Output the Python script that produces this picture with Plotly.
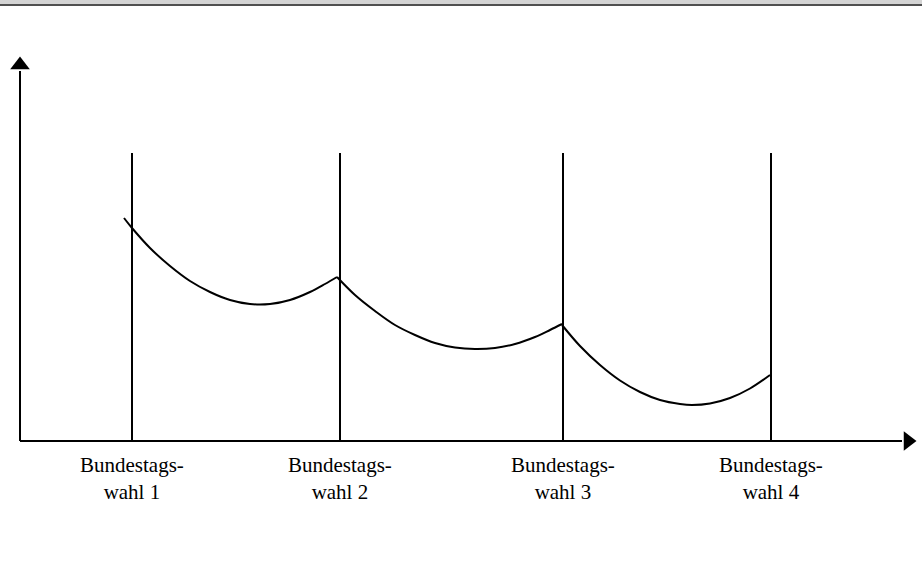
import plotly.graph_objects as go

# Categories (election dates) and their positions on the time axis
elections = ["Bundestagswahl 1", "Bundestagswahl 2", "Bundestagswahl 3", "Bundestagswahl 4"]
election_x = [112, 320, 543, 751]
election_line_top = 288

# Popularity curve, one segment between consecutive elections
seg1_x = [104, 112, 130, 150, 170, 190, 210, 230, 250, 270, 290, 305, 317]
seg1_y = [223, 213, 193, 175, 160, 149, 141, 137, 137, 141, 149, 157, 164]
seg2_x = [317, 335, 355, 375, 395, 415, 435, 455, 475, 495, 515, 530, 542]
seg2_y = [164, 146, 130, 116, 106, 98, 93.5, 92, 93, 97, 104, 111, 117]
seg3_x = [542, 560, 580, 600, 620, 640, 660, 672, 690, 710, 730, 750]
seg3_y = [116, 95, 76, 60.5, 49, 41, 37, 36, 37.5, 43, 52.5, 66]

# Axis extents
x_axis_end = 888
y_axis_end = 376

fig = go.Figure()

# axes lines
fig.add_trace(go.Scatter(x=[0, x_axis_end - 6], y=[0, 0], mode="lines",
                         line=dict(color="black", width=2), hoverinfo="skip"))
fig.add_trace(go.Scatter(x=[0, 0], y=[0, y_axis_end - 6], mode="lines",
                         line=dict(color="black", width=2), hoverinfo="skip"))
# arrowheads
fig.add_trace(go.Scatter(x=[x_axis_end], y=[0], mode="markers",
                         marker=dict(symbol="triangle-right", size=17, color="black",
                                     line=dict(width=0)), hoverinfo="skip"))
fig.add_trace(go.Scatter(x=[0], y=[y_axis_end], mode="markers",
                         marker=dict(symbol="triangle-up", size=17, color="black",
                                     line=dict(width=0)), hoverinfo="skip"))

# vertical election lines
for ex in election_x:
    fig.add_trace(go.Scatter(x=[ex, ex], y=[0, election_line_top], mode="lines",
                             line=dict(color="black", width=2), hoverinfo="skip"))

# curve segments
for sx, sy in [(seg1_x, seg1_y), (seg2_x, seg2_y), (seg3_x, seg3_y)]:
    fig.add_trace(go.Scatter(x=sx, y=sy, mode="lines",
                             line=dict(color="black", width=2, shape="spline", smoothing=1.0),
                             hoverinfo="skip"))

# labels
for name, ex in zip(elections, election_x):
    a, b = name.split(" ")
    label = a[:-4] + "-<br>" + a[-4:].lower() + " " + b
    fig.add_annotation(x=ex, y=-37, text=label, showarrow=False,
                       xanchor="center", yanchor="middle", align="center",
                       font=dict(family="Liberation Serif", size=21, color="black"))

# window top border
fig.add_shape(type="rect", x0=-20, x1=902, y0=437, y1=441, xref="x", yref="y",
              fillcolor="#d4d4d4", line=dict(width=0), layer="below")
fig.add_shape(type="line", x0=-20, x1=902, y0=436, y1=436, xref="x", yref="y",
              line=dict(color="#505050", width=2))

fig.update_layout(
    width=922, height=579,
    margin=dict(l=0, r=0, t=0, b=0),
    paper_bgcolor="white", plot_bgcolor="white",
    showlegend=False,
    xaxis=dict(range=[-20, 902], visible=False, fixedrange=True),
    yaxis=dict(range=[-138, 441], visible=False, fixedrange=True),
)

fig.write_html("out.html",
               config={"displayModeBar": False, "staticPlot": True},
               post_script="document.body.style.margin='0';document.body.style.overflow='hidden';")
